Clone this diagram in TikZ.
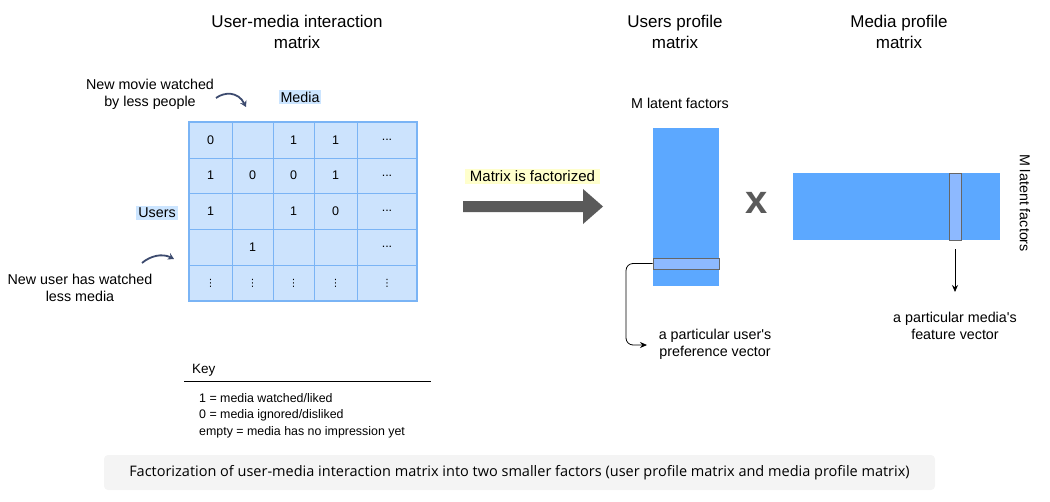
\documentclass[tikz,border=0pt]{standalone}
\usepackage{fontspec}
\setmainfont{Liberation Sans}[Ligatures=TeXOff]
\newfontfamily\capfont{Open Sans}[Ligatures=TeXOff]
\newfontfamily\symfont{DejaVu Sans}
\usetikzlibrary{arrows.meta}
\definecolor{cellfill}{HTML}{CCE3FD}
\definecolor{cellline}{HTML}{7AB4F5}
\definecolor{profblue}{HTML}{5CA8FF}
\definecolor{barblue}{HTML}{8DB9FF}
\definecolor{bargray}{HTML}{666666}
\definecolor{hlblue}{HTML}{CCE5FF}
\definecolor{hlyellow}{HTML}{FFFFCC}
\definecolor{navy}{HTML}{3C4A6E}
\definecolor{arrowgray}{HTML}{5A5A5A}
\definecolor{capbg}{HTML}{F4F4F4}
\tikzset{
  title/.style={align=center, font=\fontsize{17}{21.5}\selectfont, inner sep=0pt},
  lbl/.style={align=center, font=\fontsize{14.3}{17.5}\selectfont, inner sep=0pt},
  keytxt/.style={anchor=west, font=\fontsize{12.4}{15}\selectfont, inner sep=0pt},
  cell/.style={draw=cellline, line width=0.9pt, fill=cellfill, inner sep=0pt, font=\fontsize{12.5}{14}\selectfont},
  curarrow/.style={draw=navy, line width=1.8pt, -{Stealth[length=6pt,width=7pt]}},
  thinarrow/.style={draw=black, line width=0.8pt, -{Stealth[length=7pt,width=6pt]}},
  hl/.style={inner sep=2pt, font=\fontsize{14.3}{17.5}\selectfont},
}
\newcommand{\vd}{{\symfont\fontsize{10}{10}\selectfont ⋮}}
% \mcell{name}{x1}{x2}{y1}{y2}{text}
\newcommand{\mcell}[6]{\node[cell, minimum width={#3-#2}, minimum height={#5-#4}] (#1) at ({(#2+#3)/2},{(#4+#5)/2}) {#6};}
\newcommand{\mrow}[8]{%
  \mcell{c#1a}{189}{232}{#2}{#3}{#4}
  \mcell{c#1b}{232}{273}{#2}{#3}{#5}
  \mcell{c#1c}{273}{314}{#2}{#3}{#6}
  \mcell{c#1d}{314}{357}{#2}{#3}{#7}
  \mcell{c#1e}{357}{417}{#2}{#3}{#8}}
\begin{document}
\begin{tikzpicture}[x=1pt,y=-1pt]
\useasboundingbox (0,0) rectangle (1050,501);
% titles
\node[title] (t1) at (297,32) {User-media interaction\\matrix};
\node[title] (t2) at (675,32) {Users profile\\matrix};
\node[title] (t3) at (899,32) {Media profile\\matrix};
% matrix cells
\mrow{1}{122}{158}{0}{}{1}{1}{...}
\mrow{2}{158}{193}{1}{0}{0}{1}{...}
\mrow{3}{193}{229}{1}{}{1}{0}{...}
\mrow{4}{229}{265}{}{1}{}{}{...}
\mrow{5}{265}{301}{\vd}{\vd}{\vd}{\vd}{\vd}
\node[draw=cellline, line width=1.8pt, inner sep=0pt, minimum width=228, minimum height=179] (mat) at (303,211.5) {};
% axis labels
\node[hl, fill=hlblue] (media) at (300,97) {Media};
\node[hl, fill=hlblue] (users) at (157,213) {Users};
% annotations
\node[lbl] (newmovie) at (150,94.5) {New movie watched\\by less people};
\node[lbl] (newuser) at (80,288) {New user has watched\\less media};
\coordinate (a1s) at (216,98);
\coordinate (a1e) at (246,107);
\draw[curarrow] (a1s) .. controls (224,92) and (238,91) .. (a1e);
\coordinate (a2s) at (142,263);
\coordinate (a2e) at (174,259);
\draw[curarrow] (a2s) .. controls (150,256) and (162,253) .. (a2e);
% key
\node[anchor=west, inner sep=0pt, font=\fontsize{13.5}{16}\selectfont] (key) at (192,370) {Key};
\coordinate (kl) at (184,381);
\coordinate (kr) at (431,381);
\draw[line width=0.8pt] (kl) -- (kr);
\node[keytxt] (k1) at (199,398) {1 = media watched/liked};
\node[keytxt] (k2) at (199,415) {0 = media ignored/disliked};
\node[keytxt] (k3) at (199,432) {empty = media has no impression yet};
% big arrow
\node[fill=hlyellow, inner sep=1pt, font=\fontsize{15}{18}\selectfont, minimum width=135, minimum height=15] (fact) at (532.5,176) {Matrix is factorized};
\fill[arrowgray] (463,201) -- (583,201) -- (583,189) -- (603,206.5) -- (583,224) -- (583,212) -- (463,212) -- cycle;
% user profile matrix
\node[lbl, anchor=center] (mlat) at (680,103) {M latent factors};
\node[fill=profblue, inner sep=0pt, minimum width=66, minimum height=158] (umat) at (686,207) {};
\node[fill=barblue, draw=bargray, line width=0.9pt, inner sep=0pt, minimum width=66, minimum height=11] (ubar) at (686,263.5) {};
% x
\node[font=\fontsize{40}{40}\selectfont\bfseries, text=arrowgray, inner sep=0pt] (times) at (757,203) {x};
% media profile matrix
\node[fill=profblue, inner sep=0pt, minimum width=207, minimum height=67] (mmat) at (896.5,206.5) {};
\node[fill=barblue, draw=bargray, line width=0.9pt, inner sep=0pt, minimum width=12, minimum height=67] (mbar) at (955,206.5) {};
\node[lbl, rotate=-90] (mlat2) at (1025,203) {M latent factors};
% vector labels
\node[lbl] (uvec) at (715,344.5) {a particular user's\\preference vector};
\node[lbl] (mvec) at (955,326) {a particular media's\\feature vector};
\coordinate (uend) at (647,345);
\coordinate (mstart) at (955,249);
\coordinate (mend) at (955,292);
\draw[thinarrow, rounded corners=7pt] (ubar.west) -- (626,263.5) -- (626,345) -- (uend);
\draw[thinarrow] (mstart) -- (mend);
% caption
\node[fill=capbg, rounded corners=4pt, minimum width=831, minimum height=35, inner sep=0pt, font=\capfont\fontsize{14.5}{17}\selectfont] (cap) at (519.5,472.5) {Factorization of user-media interaction matrix into two smaller factors (user profile matrix and media profile matrix)};
\end{tikzpicture}
\end{document}
